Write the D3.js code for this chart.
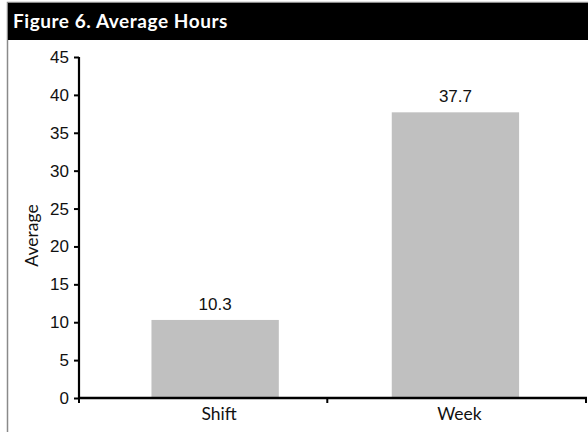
<!DOCTYPE html>
<html>
<head>
<meta charset="utf-8">
<script src="https://cdn.jsdelivr.net/npm/d3@7"></script>
<style>
  body { margin: 0; background: #fff; }
  svg { display: block; }
</style>
</head>
<body>
<div id="chart"></div>
<script>
// Chart data
const categories = ["Shift", "Week"];
const averages = [10.3, 37.7];
const yTicks = [0, 5, 10, 15, 20, 25, 30, 35, 40, 45];
const titleText = "Figure 6. Average Hours";
const yLabel = "Average";

const W = 588, H = 432;
const svg = d3.select("#chart").append("svg")
    .attr("width", W)
    .attr("height", H);

// Frame (left and top edges) and title bar
svg.append("path")
    .attr("d", `M7.5,${H}V2.5H${W}`)
    .attr("fill", "none")
    .attr("stroke", "#8a8a8a")
    .attr("stroke-width", 1.5);

svg.append("rect")
    .attr("x", 8).attr("y", 3)
    .attr("width", W - 8).attr("height", 37)
    .attr("fill", "#000");

svg.append("text")
    .attr("x", 13).attr("y", 28)
    .style("font-family", "Lato, 'Open Sans', sans-serif")
    .style("font-weight", "bold")
    .style("font-size", "19px")
    .style("letter-spacing", "0.55px")
    .attr("fill", "#fff")
    .text(titleText);

// Plot area
const plotLeft = 79, plotRight = 586, plotTop = 57, plotBottom = 398;

const y = d3.scaleLinear()
    .domain([0, 45])
    .range([plotBottom, plotTop]);

const x = d3.scaleBand()
    .domain(categories)
    .range([plotLeft, plotRight])
    .paddingInner(0.47)
    .paddingOuter(0.29)
    .align(0.52);

// Bars
svg.selectAll(".bar")
    .data(averages)
    .enter()
    .append("rect")
    .attr("class", "bar")
    .attr("x", (d, i) => x(categories[i]))
    .attr("y", d => y(d))
    .attr("width", x.bandwidth())
    .attr("height", d => y(0) - y(d))
    .attr("fill", "#c0c0c0");

// Value labels
svg.selectAll(".val")
    .data(averages)
    .enter()
    .append("text")
    .attr("class", "val")
    .attr("x", (d, i) => x(categories[i]) + x.bandwidth() / 2)
    .attr("y", d => y(d) - 10)
    .attr("text-anchor", "middle")
    .style("font-family", "'Liberation Sans', Arial, sans-serif")
    .style("font-size", "17px")
    .attr("fill", "#111")
    .text(d => d.toFixed(1));

// Y axis
const yAxis = svg.append("g")
    .attr("transform", `translate(${plotLeft},0)`)
    .call(d3.axisLeft(y).tickValues(yTicks).tickSize(5).tickPadding(5));
yAxis.select(".domain").attr("d", `M0,${plotTop}V${plotBottom}`).attr("stroke", "#000").attr("stroke-width", 2.2);
yAxis.selectAll(".tick line").attr("stroke", "#000").attr("stroke-width", 2);
yAxis.selectAll(".tick text")
    .style("font-family", "'Liberation Sans', Arial, sans-serif")
    .style("font-size", "17px")
    .attr("fill", "#111");

// X axis line with category boundary ticks
const mid = (x(categories[0]) + x.bandwidth() + x(categories[1])) / 2 - 8;
const xg = svg.append("g");
xg.append("line")
    .attr("x1", plotLeft - 1).attr("x2", plotRight + 1)
    .attr("y1", plotBottom).attr("y2", plotBottom)
    .attr("stroke", "#000").attr("stroke-width", 2.5);
[plotLeft, mid, plotRight].forEach(t => {
    xg.append("line")
        .attr("x1", t).attr("x2", t)
        .attr("y1", plotBottom).attr("y2", plotBottom + 5)
        .attr("stroke", "#000").attr("stroke-width", 2);
});

// Category labels
svg.selectAll(".cat")
    .data(categories)
    .enter()
    .append("text")
    .attr("class", "cat")
    .attr("x", d => x(d) + x.bandwidth() / 2 + 4)
    .attr("y", plotBottom + 22)
    .attr("text-anchor", "middle")
    .style("font-family", "Lato, 'Open Sans', sans-serif")
    .style("font-size", "17.5px")
    .attr("fill", "#111")
    .text(d => d);

// Y axis title
svg.append("text")
    .attr("transform", `translate(38, ${(plotTop + plotBottom) / 2 + 8}) rotate(-90)`)
    .attr("text-anchor", "middle")
    .style("font-family", "Lato, 'Open Sans', sans-serif")
    .style("font-size", "17.5px")
    .attr("fill", "#111")
    .text(yLabel);
</script>
</body>
</html>
